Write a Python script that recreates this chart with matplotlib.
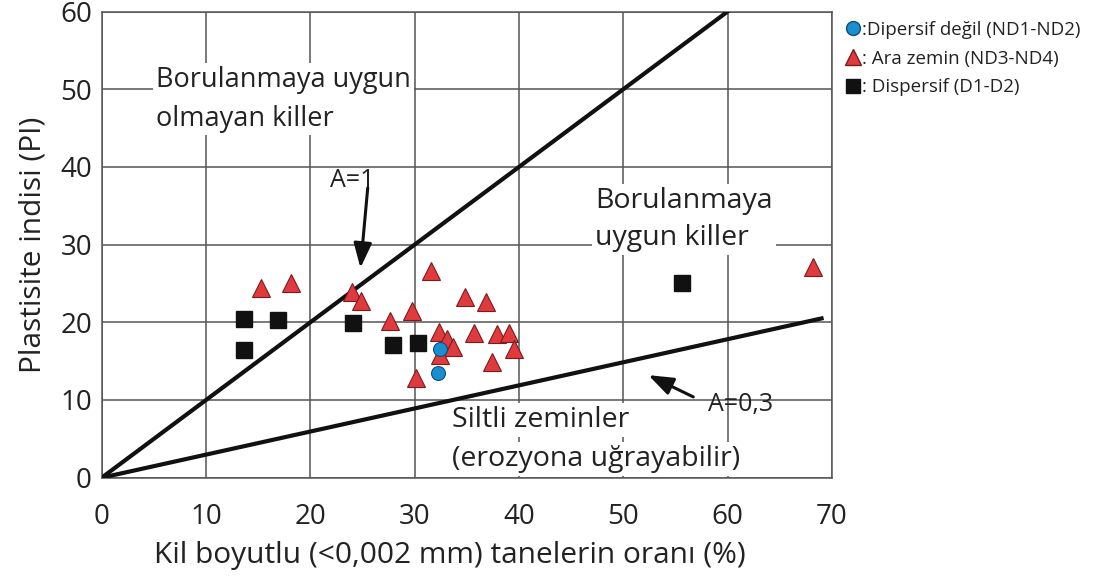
import numpy as np
import matplotlib
matplotlib.use("Agg")
import matplotlib.pyplot as plt
from matplotlib.lines import Line2D

plt.rcParams['font.family'] = ['Open Sans', 'DejaVu Sans']

# veriler
ara_x = [15.3, 18.1, 24.0, 24.9, 31.6, 29.7, 27.6, 34.8, 36.8, 32.3,
         33.1, 33.7, 32.4, 35.7, 37.9, 39.0, 39.5, 37.4, 30.1, 68.2]
ara_y = [24.4, 25.1, 23.9, 22.7, 26.6, 21.5, 20.2, 23.3, 22.6, 18.8,
         17.9, 16.8, 15.8, 18.6, 18.5, 18.6, 16.6, 14.9, 12.8, 27.1]
disp_x = [13.6, 16.9, 13.6, 24.1, 27.9, 30.3, 55.6]
disp_y = [20.4, 20.3, 16.4, 19.9, 17.1, 17.3, 25.0]
nd_x = [32.4, 32.2]
nd_y = [16.5, 13.5]

a1_x = [0, 60]
a1_y = [0, 60]
a03_x = [0, 69]
a03_y = [0, 20.5]

xticks = [0, 10, 20, 30, 40, 50, 60, 70]
yticks = [0, 10, 20, 30, 40, 50, 60]

fig = plt.figure(figsize=(11.1, 5.79), dpi=100)
ax = fig.add_axes([101.7 / 1110, 1 - 477.7 / 579, (832 - 101.7) / 1110, (477.7 - 11.5) / 579])

ax.set_xlim(0, 70)
ax.set_ylim(0, 60)
ax.set_xticks(xticks)
ax.set_yticks(yticks)
ax.grid(True, color="#555555", linewidth=1.1)
ax.set_axisbelow(True)
for s in ax.spines.values():
    s.set_color("#555555")
    s.set_linewidth(1.1)
ax.tick_params(length=0, labelsize=20, colors="#222222")
ax.tick_params(axis="x", pad=18)
ax.tick_params(axis="y", pad=7)

ax.plot(a1_x, a1_y, color="#111111", lw=3, zorder=3)
ax.plot(a03_x, a03_y, color="#111111", lw=3, zorder=3)

ax.plot(ara_x, ara_y, "^", ms=13, mfc="#e03a3e", mec="#7a1c1c", mew=0.8, zorder=4)
ax.plot(disp_x, disp_y, "s", ms=11, mfc="#111111", mec="#111111", zorder=4)
ax.plot(nd_x, nd_y, "o", ms=10, mfc="#1a8fd0", mec="#0d4f7a", mew=0.8, zorder=5)

kutu = dict(facecolor="white", edgecolor="none", pad=2)
ax.text(5.2, 48.7, "Borulanmaya uygun\nolmayan killer", fontsize=19.5, va="center",
        ha="left", color="#222222", bbox=kutu, linespacing=1.5, zorder=2)
ax.text(47.3, 33.2, "Borulanmaya\nuygun killer", fontsize=20.5, va="center",
        ha="left", color="#222222", bbox=kutu, linespacing=1.45, zorder=2)
# iki satir ayri yazildi
ax.text(33.6, 6.5, "Siltli zeminler", fontsize=20.5, va="baseline",
        ha="left", color="#222222", bbox=kutu, zorder=2)
ax.text(33.6, 1.55, "(erozyona uğrayabilir)", fontsize=20.5, va="baseline",
        ha="left", color="#222222", bbox=kutu, zorder=2)

ok = dict(arrowstyle="-|>,head_length=0.6,head_width=0.22", color="#111111", lw=2.2,
          mutation_scale=25, shrinkA=0, shrinkB=0)
ax.text(24.0, 38.3, "A=1", fontsize=18, ha="center", va="center", color="#222222")
ax.annotate("", xy=(24.8, 27.0), xytext=(25.5, 37.3), arrowprops=ok)
ax.text(61.2, 9.4, "A=0,3", fontsize=18, ha="center", va="center", color="#222222")
ax.annotate("", xy=(52.4, 13.2), xytext=(56.7, 10.4), arrowprops=ok)

ax.set_xlabel("Kil boyutlu (<0,002 mm) tanelerin oranı (%)", fontsize=21.5, color="#222222")
ax.xaxis.set_label_coords(0.477, -0.135)
ax.set_ylabel("Plastisite indisi (PI)", fontsize=21.5, color="#222222", labelpad=9)

handles = [
    Line2D([], [], ls="none", marker="o", ms=10, mfc="#1a8fd0", mec="#0d4f7a"),
    Line2D([], [], ls="none", marker="^", ms=12, mfc="#e03a3e", mec="#7a1c1c"),
    Line2D([], [], ls="none", marker="s", ms=10, mfc="#111111", mec="#111111"),
]
labels = [":Dipersif değil (ND1-ND2)", ": Ara zemin (ND3-ND4)", ": Dispersif (D1-D2)"]
fig.legend(handles, labels, loc="upper left", bbox_to_anchor=(845 / 1110, 1 - 21 / 579),
           frameon=False, fontsize=13.5, handlelength=0.8, handletextpad=0.1,
           labelspacing=0.57, borderaxespad=0, borderpad=0, labelcolor="#222222")

fig.savefig("out.png", dpi=100)
